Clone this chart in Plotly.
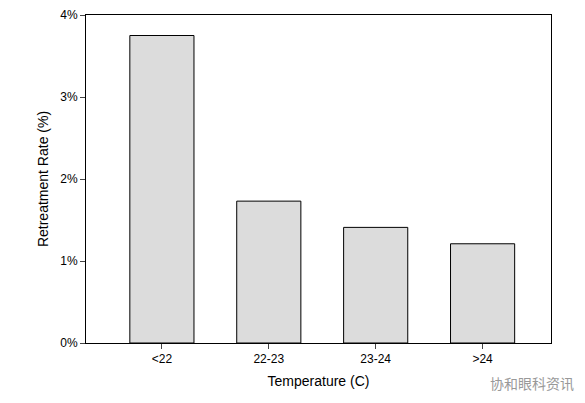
import plotly.graph_objects as go

categories = ['<22', '22-23', '23-24', '>24']
retreatment_rate = [3.75, 1.73, 1.41, 1.21]
y_ticks = [0, 1, 2, 3, 4]
y_tick_labels = ['0%', '1%', '2%', '3%', '4%']

fig = go.Figure(go.Bar(
    x=list(range(len(categories))),
    y=retreatment_rate,
    width=0.6,
    marker=dict(color='#dcdcdc', line=dict(color='black', width=1)),
))

fig.update_layout(
    width=585, height=403,
    margin=dict(l=78, r=42, t=7, b=68, pad=0),
    plot_bgcolor='white', paper_bgcolor='white',
    font=dict(family='Arial, Liberation Sans', size=12, color='black'),
    showlegend=False,
)
fig.update_xaxes(
    range=[-0.71, 3.64], tickvals=list(range(len(categories))), ticktext=categories,
    showline=True, linecolor='black', mirror=True, ticks='outside', ticklen=5,
    showgrid=False, automargin=False,
    title=dict(text='Temperature (C)', font=dict(size=14), standoff=10),
)
fig.update_yaxes(
    range=[0, 4], tickvals=y_ticks, ticktext=y_tick_labels,
    showline=True, linecolor='black', mirror=True, ticks='outside', ticklen=5,
    showgrid=False, zeroline=False, automargin=False, ticklabeloverflow='allow',
    title=dict(text='Retreatment Rate (%)', font=dict(size=14), standoff=8),
)
fig.add_annotation(
    x=1, y=0, xref='paper', yref='paper', xanchor='right', yanchor='top', yshift=-28, xshift=25,
    text='协和眼科资讯', showarrow=False,
    font=dict(family='Noto Sans CJK SC', size=14, color='#999999'),
)

fig.write_html("out.html")
